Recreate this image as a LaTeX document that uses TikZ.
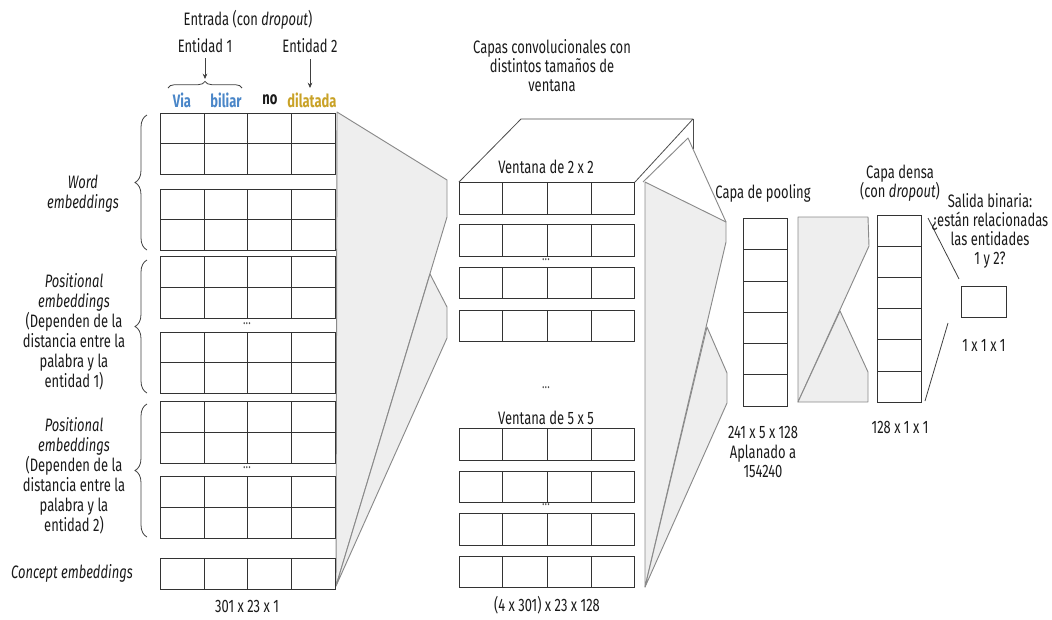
\documentclass[tikz,border=0pt]{standalone}
\usepackage{fontspec}
\setmainfont{Fira Sans}[FakeStretch=0.72]
\usetikzlibrary{decorations.pathreplacing,arrows.meta}
\definecolor{ublue}{HTML}{4A86C8}
\definecolor{ugold}{HTML}{C9A227}
\definecolor{funfill}{HTML}{EEEEEE}
\definecolor{funline}{HTML}{8A8A8A}
\definecolor{txt}{HTML}{1A1A1A}
\begin{document}
\begin{tikzpicture}[x=0.75pt,y=-0.75pt,
  cell/.style={draw=black!80, line width=0.75pt},
  funnel/.style={fill=funfill, draw=funline, line width=0.7pt, line join=round},
  thin line/.style={draw=black!75, line width=0.6pt},
  lbl/.style={font=\fontsize{13.5}{15}\selectfont, align=center, inner sep=0pt, text=txt},
  dots/.style={font=\fontsize{11}{11}\selectfont, inner sep=0pt, text=black!70},
  bracestyle/.style={decorate, draw=black!75, line width=0.6pt}]
\useasboundingbox (0,0) rectangle (1052,619);

% ---------- funnels ----------
\draw[funnel] (337,112) -- (447,180) -- (447,217) -- (336,586) -- cycle;
\draw[funnel] (430,274) -- (447,307) -- (447,338) -- (336,586) -- cycle;
\draw[funnel] (645,182) -- (726,222) -- (726,242) -- (645,587) -- cycle;
\draw[funnel] (707,327) -- (727,373) -- (727,403) -- (645,587) -- cycle;
\draw[funnel] (798,217) -- (868,217) -- (869,246) -- (798,402) -- cycle;
\draw[funnel] (840,311) -- (868,372) -- (868,402) -- (798,402) -- cycle;

% 3D top of convolution block
\draw[draw=black!70, line width=0.6pt, line join=round] (459,182) -- (521,119) -- (693,119) -- (635,182);
\draw[draw=black!70, line width=0.6pt] (693,119) -- (693,149);
\draw[draw=funline, line width=0.7pt, line join=round] (643,182) -- (688,138) -- (726,222);

% ---------- input grid ----------
\foreach \a/\b in {113/174,189/250,256/318,332/393,401/463,476/538}{
  \draw[cell] (160,\a) rectangle (335,\b);
  \draw[cell] (160,{(\a+\b)/2}) -- (335,{(\a+\b)/2});
  \foreach \x in {204,247,291} \draw[cell] (\x,\a) -- (\x,\b);
}
\draw[cell] (160,558) rectangle (335,589);
\foreach \x in {204,247,291} \draw[cell] (\x,558) -- (\x,589);
\node[dots] (d1) at (247,324) {...};
\node[dots] (d2) at (247,468) {...};

% ---------- convolution rows ----------
\foreach \a/\b in {182/214,224/256,267/298,310/341,428/460,471/502,513/545,556/587}{
  \draw[cell] (459,\a) rectangle (634,\b);
  \foreach \x in {502,547,591} \draw[cell] (\x,\a) -- (\x,\b);
}
\node[dots] (d3) at (546,260) {...};
\node[dots] (d4) at (546,388) {...};
\node[dots] (d5) at (546,505) {...};

% ---------- pooling column ----------
\draw[cell] (743,218) rectangle (787,406);
\foreach \y in {249,281,312,343,374} \draw[cell] (743,\y) -- (787,\y);

% ---------- dense column ----------
\draw[cell] (877,215) rectangle (921,402);
\foreach \y in {246,277,308,339,371} \draw[cell] (877,\y) -- (921,\y);

% ---------- output ----------
\draw[cell] (961,286) rectangle (1006,317);
\coordinate (o1) at (928,218);
\coordinate (o2) at (959,279);
\coordinate (o3) at (925,401);
\coordinate (o4) at (948,323);
\draw[thin line] (o1) -- (o2);
\draw[thin line] (o3) -- (o4);

% ---------- braces ----------
\draw[bracestyle, decoration={brace, amplitude=9pt, aspect=0.5}] (147,250) -- (147,115);
\draw[bracestyle, decoration={brace, amplitude=9pt, aspect=0.5}] (147,393) -- (147,260);
\draw[bracestyle, decoration={brace, amplitude=9pt, aspect=0.5}] (147,537) -- (147,404);
\draw[bracestyle, decoration={brace, amplitude=5pt, aspect=0.5}] (168,88) -- (242,88);

% ---------- top labels ----------
\node[lbl] (title) at (248,20) {Entrada (con \textit{dropout})};
\node[lbl] (e1) at (205,46) {Entidad 1};
\node[lbl] (e2) at (310,46) {Entidad 2};
\coordinate (b1) at (205,79);
\coordinate (b2) at (310,88);
\draw[thin line, -{Stealth[length=4pt,width=3.5pt]}] (205,58) -- (b1);
\draw[thin line, -{Stealth[length=4pt,width=3.5pt]}] (310,59) -- (b2);
\node[lbl, text=ublue, font=\fontsize{13.5}{15}\selectfont\bfseries] (w1) at (182,100) {Via};
\node[lbl, text=ublue, font=\fontsize{13.5}{15}\selectfont\bfseries] (w2) at (226,100) {biliar};
\node[lbl, font=\fontsize{13.5}{15}\selectfont\bfseries] (w3) at (270,100) {no};
\node[lbl, text=ugold, font=\fontsize{13.5}{15}\selectfont\bfseries] (w4) at (312,100) {dilatada};

% ---------- left labels ----------
\node[lbl] (lw) at (83,194) {\textit{Word}\\\textit{embeddings}};
\node[lbl] (lp1) at (74,332) {\textit{Positional}\\\textit{embeddings}\\(Dependen de la\\distancia entre la\\palabra y la\\entidad 1)};
\node[lbl] (lp2) at (74,476) {\textit{Positional}\\\textit{embeddings}\\(Dependen de la\\distancia entre la\\palabra y la\\entidad 2)};
\node[lbl] (lc) at (72,573) {\textit{Concept embeddings}};
\node[lbl] (dimin) at (247,606) {301 x 23 x 1};

% ---------- conv labels ----------
\node[lbl, font=\fontsize{13.5}{14.3}\selectfont] (convt) at (552,66) {Capas convolucionales con\\distintos tamaños de\\ventana};
\node[lbl] (v2) at (546,167) {Ventana de 2 x 2};
\node[lbl] (v5) at (546,418) {Ventana de 5 x 5};
\node[lbl] (dimconv) at (547,605) {(4 x 301) x 23 x 128};

% ---------- pooling / dense / output labels ----------
\node[lbl] (pt) at (763,193) {Capa de pooling};
\node[lbl, font=\fontsize{13.5}{14.5}\selectfont] (pd) at (763,452) {241 x 5 x 128\\Aplanado a\\154240};
\node[lbl, font=\fontsize{13.5}{14.3}\selectfont] (dt) at (900,183) {Capa densa\\(con \textit{dropout})};
\node[lbl] (dd) at (900,427) {128 x 1 x 1};
\node[lbl, font=\fontsize{13.5}{14.3}\selectfont] (st) at (990,231) {Salida binaria:\\¿están relacionadas\\las entidades\\1 y 2?};
\node[lbl] (sd) at (984,345) {1 x 1 x 1};
\end{tikzpicture}
\end{document}
